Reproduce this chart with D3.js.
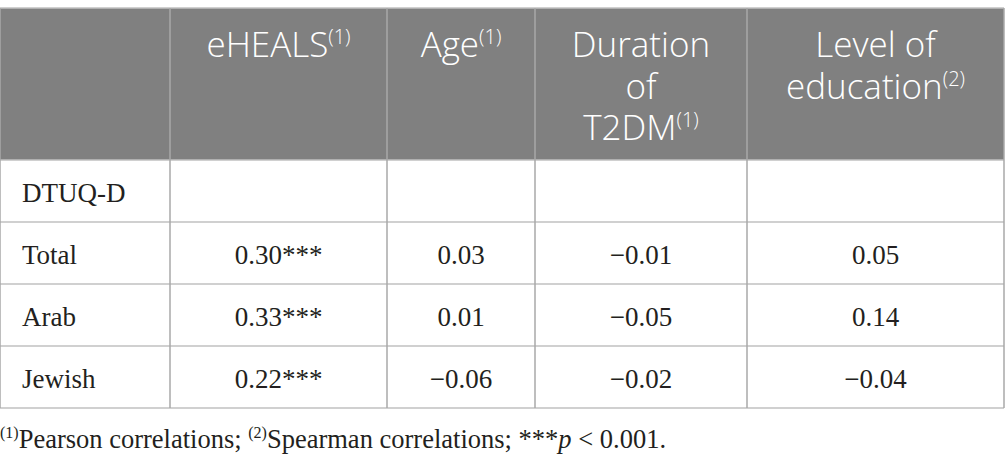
<!DOCTYPE html>
<html>
<head>
<meta charset="utf-8">
<script src="https://cdn.jsdelivr.net/npm/d3@7"></script>
<style>
  body { margin: 0; background: #fff; }
  svg { display: block; }
</style>
</head>
<body>
<div id="table"></div>
<script>
const w = 1005;
const h = 467;

// table content
const headerLines = [
    [],
    ["eHEALS"],
    ["Age"],
    ["Duration", "of", "T2DM"],
    ["Level of", "education"]
];
const headerNotes = ["", "(1)", "(1)", "(1)", "(2)"];
const rowLabels = ["DTUQ-D", "Total", "Arab", "Jewish"];
const eHEALS = [null, 0.30, 0.33, 0.22];
const age = [null, 0.03, 0.01, -0.06];
const duration = [null, -0.01, -0.05, -0.02];
const education = [null, 0.05, 0.14, -0.04];
const stars = ["", "***", "***", "***"];
const footnote = [
    { sup: "(1)", text: "Pearson correlations; " },
    { sup: "(2)", text: "Spearman correlations; ***" },
    { italic: "p" },
    { text: " < 0.001." }
];

// layout
const colEdges = [0, 170, 387, 535, 747, 1004];
const tableTop = 8;
const headerBottom = 160;
const tableBottom = 408;
const headerBg = "#808080";
const lineCol = "#c0c0c0";
const textCol = "#231f20";

const fmt = d3.format(".2f");

const svg = d3.select("#table")
    .append("svg")
    .attr("width", w)
    .attr("height", h);

// rows below header
const y = d3.scaleBand()
    .domain(rowLabels)
    .range([headerBottom, tableBottom]);

// header background
svg.append("rect")
    .attr("x", colEdges[0])
    .attr("y", tableTop)
    .attr("width", colEdges[5] - colEdges[0])
    .attr("height", headerBottom - tableTop)
    .attr("fill", headerBg);

// horizontal lines
const hLines = [tableTop, headerBottom].concat(rowLabels.map(d => y(d) + y.bandwidth()));
svg.selectAll("line.h")
    .data(hLines)
    .enter()
    .append("line")
    .attr("class", "h")
    .attr("x1", colEdges[0])
    .attr("x2", colEdges[5])
    .attr("y1", d => d)
    .attr("y2", d => d)
    .attr("stroke", lineCol)
    .attr("stroke-width", 1.5);

// vertical lines
svg.selectAll("line.v")
    .data(colEdges)
    .enter()
    .append("line")
    .attr("class", "v")
    .attr("x1", d => d)
    .attr("x2", d => d)
    .attr("y1", tableTop)
    .attr("y2", tableBottom)
    .attr("stroke", "#a8a8a8")
    .attr("stroke-width", 1.5);

// header text, one text element per column
const colMid = i => (colEdges[i] + colEdges[i + 1]) / 2;
const lineH = 41.5;

headerLines.forEach((lines, ci) => {
    if (!lines.length) return;
    let t = svg.append("text")
        .attr("text-anchor", "middle")
        .attr("fill", "#fff")
        .style("font-family", "'Open Sans', sans-serif")
        .style("font-weight", 300)
        .style("font-size", "35px");
    lines.forEach((line, li) => {
        t.append("tspan")
            .attr("x", colMid(ci))
            .attr("y", 57 + li * lineH)
            .text(line);
        // superscript note after the last line
        if (li === lines.length - 1 && headerNotes[ci]) {
            t.append("tspan")
                .attr("dy", -13)
                .style("font-size", "20px")
                .text(headerNotes[ci]);
        }
    });
});

// body rows
const series = [eHEALS, age, duration, education];

svg.selectAll("text.label")
    .data(rowLabels)
    .enter()
    .append("text")
    .attr("class", "label")
    .attr("x", 22)
    .attr("y", d => y(d) + y.bandwidth() / 2 + 11)
    .attr("fill", textCol)
    .style("font-family", "'Liberation Serif', serif")
    .style("font-size", "27px")
    .text(d => d);

series.forEach((vals, si) => {
    svg.selectAll("text.val" + si)
        .data(vals.map((v, ri) => ({ v: v, row: rowLabels[ri], star: stars[ri] })))
        .enter()
        .filter(d => d.v !== null)
        .append("text")
        .attr("x", colMid(si + 1))
        .attr("y", d => y(d.row) + y.bandwidth() / 2 + 11)
        .attr("text-anchor", "middle")
        .attr("fill", textCol)
        .style("font-family", "'Liberation Serif', serif")
        .style("font-size", "27px")
        .text(d => fmt(d.v) + (si === 0 ? d.star : ""));
});

// footnote
const note = svg.append("text")
    .attr("x", 0)
    .attr("y", 448)
    .attr("fill", textCol)
    .style("font-family", "'Liberation Serif', serif")
    .style("font-size", "26.5px");

footnote.forEach(part => {
    if (part.sup) {
        note.append("tspan").attr("dy", -10).style("font-size", "16px").text(part.sup);
        note.append("tspan").attr("dy", 10).text(part.text);
    } else if (part.italic) {
        note.append("tspan").style("font-style", "italic").text(part.italic);
    } else {
        note.append("tspan").text(part.text);
    }
});
</script>
</body>
</html>
